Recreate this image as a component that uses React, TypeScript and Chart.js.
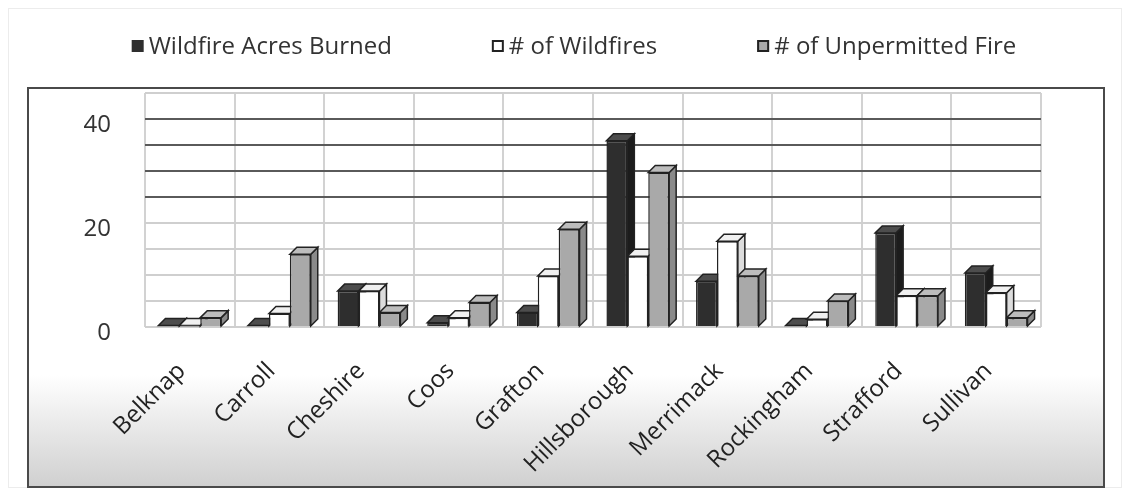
import React, { useEffect, useRef } from 'react';
import { Chart, registerables } from 'chart.js';

Chart.register(...registerables);

// ---- data ----
const counties = ['Belknap', 'Carroll', 'Cheshire', 'Coos', 'Grafton', 'Hillsborough', 'Merrimack', 'Rockingham', 'Strafford', 'Sullivan'];
const acresBurned = [0.3, 0.3, 6.9, 0.8, 2.8, 35.8, 8.8, 0.3, 18.1, 10.4];
const wildfireCount = [0.3, 2.6, 6.9, 1.8, 9.8, 13.6, 16.5, 1.5, 6.0, 6.6];
const unpermittedCount = [1.8, 14.0, 2.8, 4.7, 18.8, 29.7, 9.8, 5.0, 6.0, 1.8];
const seriesNames = ['Wildfire Acres Burned', '# of Wildfires', '# of Unpermitted Fire'];
const yLabelValues = [0, 20, 40];
const yMax = 45;
const yStep = 5;

// ---- styles ----
const FONT = '"Open Sans", "DejaVu Sans", sans-serif';
const W = 1114;
const H = 480;
const FRONT = ['#2e2e2e', '#ffffff', '#a9a9a9'];
const TOP = ['#4d4d4d', '#f0f0f0', '#bdbdbd'];
const SIDE = ['#1c1c1c', '#dcdcdc', '#8a8a8a'];
const EDGE = '#222222';
const DEPTH = 7;
const LEGEND_CX = 565;
const LEGEND_CY = 37;

const depthPlugin = {
  id: 'depth3d',
  beforeDatasetsDraw(chart: any) {
    const ctx = chart.ctx;
    ctx.save();
    ctx.lineWidth = 1.5;
    ctx.strokeStyle = EDGE;
    chart.data.datasets.forEach((_ds: any, i: number) => {
      const meta = chart.getDatasetMeta(i);
      meta.data.forEach((bar: any) => {
        const { x, y, base, width } = bar.getProps(['x', 'y', 'base', 'width'], true);
        const l = x - width / 2;
        const r = x + width / 2;
        ctx.beginPath();
        ctx.moveTo(r, y);
        ctx.lineTo(r + DEPTH, y - DEPTH);
        ctx.lineTo(r + DEPTH, base - DEPTH);
        ctx.lineTo(r, base);
        ctx.closePath();
        ctx.fillStyle = SIDE[i];
        ctx.fill();
        ctx.stroke();
        ctx.beginPath();
        ctx.moveTo(l, y);
        ctx.lineTo(l + DEPTH, y - DEPTH);
        ctx.lineTo(r + DEPTH, y - DEPTH);
        ctx.lineTo(r, y);
        ctx.closePath();
        ctx.fillStyle = TOP[i];
        ctx.fill();
        ctx.stroke();
      });
    });
    ctx.restore();
  },
};

const legendPlugin = {
  id: 'topLegend',
  afterDraw(chart: any) {
    const ctx = chart.ctx;
    ctx.save();
    ctx.font = `24px ${FONT}`;
    const items = chart.data.datasets.map((ds: any, i: number) => ({ text: ds.label, fill: FRONT[i] }));
    const BOX = 12;
    const TG = 5;
    const GAP = 100;
    const widths = items.map((it: any) => BOX + TG + ctx.measureText(it.text).width);
    const total = widths.reduce((a: number, b: number) => a + b, 0) + GAP * (items.length - 1);
    let x = LEGEND_CX - total / 2;
    const y = LEGEND_CY;
    items.forEach((it: any, i: number) => {
      ctx.fillStyle = it.fill;
      ctx.fillRect(x, y - BOX / 2, BOX, BOX);
      if (i > 0) {
        ctx.strokeStyle = EDGE;
        ctx.lineWidth = 2;
        ctx.strokeRect(x + 1, y - BOX / 2 + 1, BOX - 2, BOX - 2);
      }
      ctx.fillStyle = '#333333';
      ctx.textAlign = 'left';
      ctx.textBaseline = 'middle';
      ctx.fillText(it.text, x + BOX + TG, y + 1);
      x += widths[i] + GAP;
    });
    ctx.restore();
  },
};

export default function App() {
  const canvasRef = useRef<HTMLCanvasElement | null>(null);

  useEffect(() => {
    const canvas = canvasRef.current;
    if (!canvas) return;
    const chart = new Chart(canvas, {
      type: 'bar',
      data: {
        labels: counties,
        datasets: [
          { label: seriesNames[0], data: acresBurned, backgroundColor: FRONT[0], borderColor: EDGE, borderWidth: 1.5 },
          { label: seriesNames[1], data: wildfireCount, backgroundColor: FRONT[1], borderColor: EDGE, borderWidth: 1.5 },
          { label: seriesNames[2], data: unpermittedCount, backgroundColor: FRONT[2], borderColor: EDGE, borderWidth: 1.5 },
        ],
      },
      options: {
        responsive: false,
        animation: false,
        devicePixelRatio: 1,
        layout: { padding: { left: 8, right: 82, top: 84, bottom: 10 } },
        datasets: { bar: { categoryPercentage: 0.7, barPercentage: 1.0 } },
        plugins: {
          legend: { display: false },
          tooltip: { enabled: false },
        },
        scales: {
          x: {
            grid: { offset: true, color: '#d2d2d2', lineWidth: 2, drawTicks: false },
            border: { display: false },
            ticks: {
              autoSkip: false,
              maxRotation: 45,
              minRotation: 45,
              padding: 30,
              labelOffset: -8,
              color: '#222222',
              font: { family: FONT, size: 24 },
            },
            afterFit: (scale: any) => {
              scale.height = 152;
            },
          },
          y: {
            min: 0,
            max: yMax,
            grid: {
              color: (c: any) => {
                const v = c.tick && c.tick.value;
                return v >= 25 && v <= 40 ? '#5a5a5a' : '#cfcfcf';
              },
              lineWidth: 2,
              drawTicks: false,
            },
            border: { display: false },
            ticks: {
              autoSkip: false,
              stepSize: yStep,
              padding: 34,
              labelOffset: 6,
              color: '#333333',
              font: { family: FONT, size: 24 },
              callback: (v: any) => (yLabelValues.includes(Number(v)) ? String(v) : ''),
            },
            afterFit: (scale: any) => {
              scale.width = 128;
            },
          },
        },
      },
      plugins: [depthPlugin, legendPlugin],
    });
    return () => chart.destroy();
  }, []);

  return (
    <div style={{ position: 'relative', width: W, height: H, border: '1px solid #ececec', boxSizing: 'border-box', background: '#fff' }}>
      <div
        style={{
          position: 'absolute',
          left: 18,
          top: 78,
          width: 1078,
          height: 401,
          boxSizing: 'border-box',
          border: '2px solid #4a4a4a',
          background: 'linear-gradient(180deg, #ffffff 0%, #ffffff 72%, #e4e4e4 88%, #d0d0d0 100%)',
        }}
      />
      <canvas ref={canvasRef} width={W} height={H} style={{ position: 'absolute', left: 0, top: 0 }} />
    </div>
  );
}
